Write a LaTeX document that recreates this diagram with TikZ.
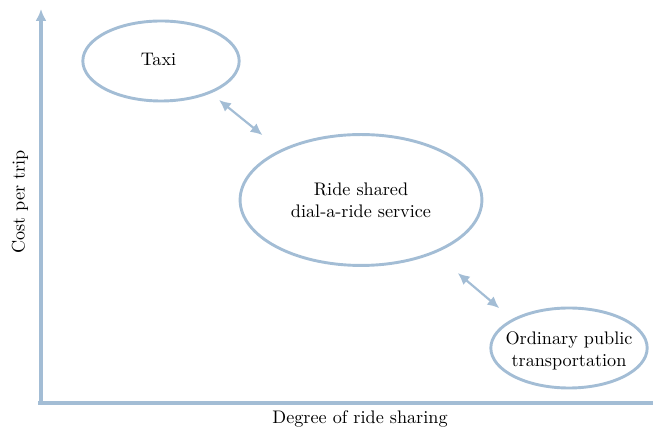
\documentclass[tikz,border=0pt]{standalone}
\usepackage{tikz}
\usetikzlibrary{arrows.meta,shapes}
\definecolor{axisblue}{RGB}{163,189,213}

\begin{document}
\begin{tikzpicture}[x=0.55pt,y=-0.55pt,
  bubble/.style={draw=axisblue,line width=1.6pt,ellipse,inner sep=0pt},
  axisline/.style={draw=axisblue,line width=1.7pt},
  twoway/.style={draw=axisblue,line width=1.2pt,
    {Latex[length=6.5pt,width=6pt]}-{Latex[length=6.5pt,width=6pt]}}]
\useasboundingbox (0,0) rectangle (653,432);
\coordinate (origin) at (41,403);
\coordinate (ytop) at (41,9);
\coordinate (xend) at (653,403);
\draw [axisline,-{Latex[length=6.5pt,width=6pt]}] (origin) -- (ytop);
\draw [axisline] (38,403) -- (xend);
\node (ylab) [rotate=90] at (20,202) {Cost per trip};
\node (xlab) at (360,419) {Degree of ride sharing};
\node (taxi) [bubble,minimum width=86pt,minimum height=44pt] at (161,61) {};
\node at (158.5,59) {Taxi};
\node (ride) [bubble,minimum width=133pt,minimum height=72pt] at (361,200) {};
\node [align=center] at (361,200) {Ride shared\\dial-a-ride service};
\node (pubtr) [bubble,minimum width=86pt,minimum height=44pt] at (569,348) {};
\node [align=center] at (569,351) {Ordinary public\\transportation};
\draw [twoway,shorten <=5.8pt,shorten >=12.7pt] (taxi.-33.5) -- (ride.148.7);
\draw [twoway,shorten <=16.7pt,shorten >=9.2pt] (ride.-36.7) -- (pubtr.153.7);
\end{tikzpicture}
\end{document}
